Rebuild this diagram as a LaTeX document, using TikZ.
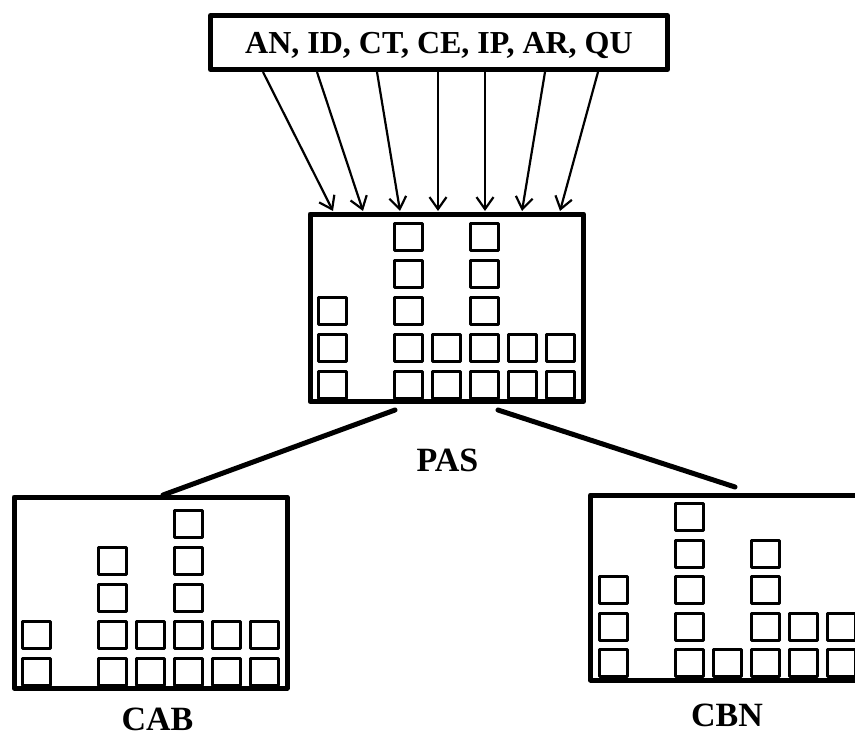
\documentclass[tikz,border=0pt]{standalone}
\usepackage{fontspec}
\setmainfont{Liberation Serif}
\usetikzlibrary{arrows.meta,calc}

\begin{document}
\begin{tikzpicture}[x=1pt,y=-1pt,line join=round,>={Straight Barb[length=12pt,width=17pt]},
	frame/.style={draw,rectangle,line width=5pt,inner sep=0pt,outer sep=0pt,anchor=north west},
	sq/.style={line width=3pt},
	lbl/.style={font=\fontsize{34}{34}\selectfont\bfseries}]
	\useasboundingbox (0,0) rectangle (855,737);
	\clip (0,0) rectangle (855,737);
	% source box and the three frames
	\node[frame,minimum width=457pt,minimum height=54pt,text depth=0pt,font=\fontsize{32}{32}\selectfont\bfseries] (src) at (210.5,15.5) {AN, ID, CT, CE, IP, AR, QU};
	\node[frame,minimum width=273.5pt,minimum height=187.5pt] (pas) at (310,214) {};
	\node[frame,minimum width=273pt,minimum height=191pt] (cab) at (14,497) {};
	\node[frame,minimum width=277.5pt,minimum height=185pt] (cbn) at (590.5,495) {};
	% arrows into PAS
	\foreach \a/\b in {52.5/23,106.5/53,166.5/90,227.5/128,274.5/175,334.5/212,387.5/250}
		\draw[->,line width=2.2pt] ($(src.south west)+(\a,2.5)$) -- ($(pas.north west)+(\b,-3)$);
	% stacks of squares
	\foreach \c/\n in {0/3,2/5,3/2,4/5,5/2,6/2}
		\foreach \r in {1,...,\n}
			\draw[sq] ($(pas.south west)+(8.5+38*\c,-30-37*\r+37)$) rectangle ++(28,27);
	\foreach \c/\n in {0/2,2/4,3/2,4/5,5/2,6/2}
		\foreach \r in {1,...,\n}
			\draw[sq] ($(cab.south west)+(8.5+38*\c,-29.5-37*\r+37)$) rectangle ++(28,27);
	\foreach \c/\n in {0/3,2/5,3/1,4/4,5/2,6/2}
		\foreach \r in {1,...,\n}
			\draw[sq] ($(cbn.south west)+(9+38*\c,-30.5-36.5*\r+36.5)$) rectangle ++(28,27);
	% branches
	\draw[line width=5pt,line cap=round] ($(pas.south west)+(85,8.5)$) -- ($(cab.north west)+(149,-2)$);
	\draw[line width=5pt,line cap=round] ($(pas.south west)+(188,8.5)$) -- ($(cbn.north west)+(144.5,-8)$);
	% labels
	\node[lbl] (paslbl) at (447.5,460) {PAS};
	\node[lbl] (cablbl) at (157.5,719) {CAB};
	\node[lbl] (cbnlbl) at (727,715) {CBN};
\end{tikzpicture}
\end{document}
